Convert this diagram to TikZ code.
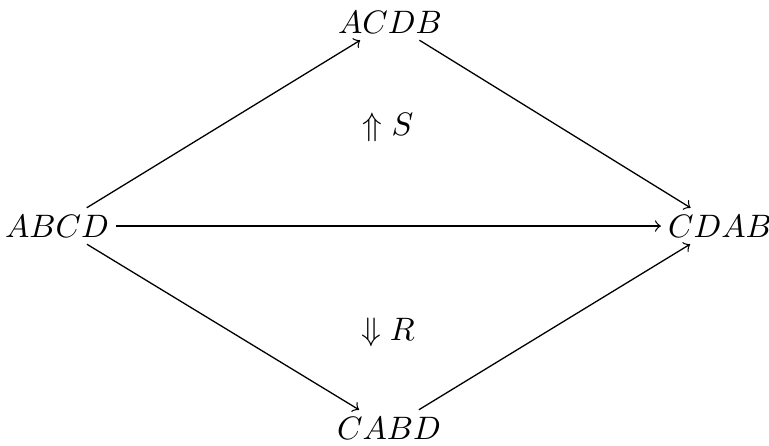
\documentclass[tikz,border=0pt]{standalone}
\usetikzlibrary{arrows}
\begin{document}
\begin{tikzpicture}[x=0.308pt, y=-0.308pt,
    obj/.style={inner sep=2pt},
    arr/.style={->, >=to, thin}
  ]
  \useasboundingbox (0,0) rectangle (769,445);
  \node[obj] (abcd) at (57,226) {$ABCD$};
  \node[obj] (acdb) at (390,22) {$ACDB$};
  \node[obj] (cdab) at (720,226) {$CDAB$};
  \node[obj] (cabd) at (389,428) {$CABD$};

  \draw[arr] (abcd) -- (acdb);
  \draw[arr] (acdb) -- (cdab);
  \draw[arr] (abcd) -- (cdab);
  \draw[arr] (abcd) -- (cabd);
  \draw[arr] (cabd) -- (cdab);

  \node (s) at (388,127) {$\Uparrow S$};
  \node (r) at (388,332) {$\Downarrow R$};
\end{tikzpicture}
\end{document}
